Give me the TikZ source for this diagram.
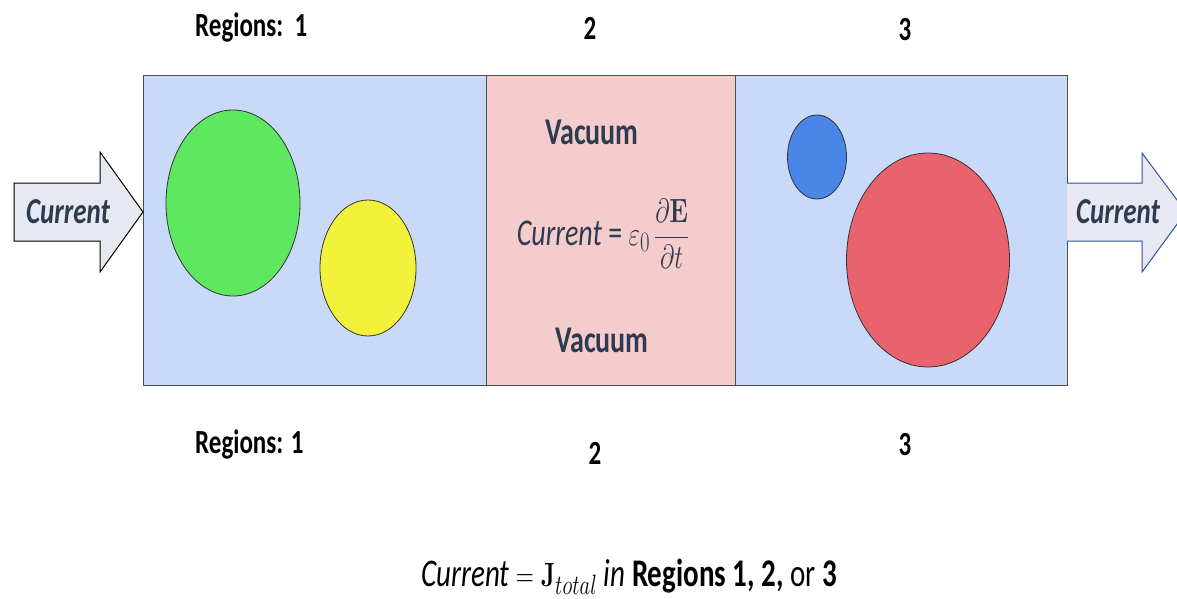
\documentclass[tikz,border=0pt]{standalone}
\usepackage[no-math]{fontspec}
\usepackage{graphicx}
\setmainfont{Carlito}
\definecolor{regblue}{HTML}{C9DAF8}
\definecolor{regpink}{HTML}{F4CCCC}
\definecolor{cgreen}{HTML}{5EE860}
\definecolor{cyellow}{HTML}{F2F23A}
\definecolor{cblue}{HTML}{4A86E8}
\definecolor{cred}{HTML}{E8636E}
\definecolor{darktxt}{HTML}{2E3A50}
\definecolor{arrfill}{HTML}{E6E9F1}
\definecolor{arrblue}{HTML}{2F5597}
\newcommand\vs[1]{\scalebox{1}[1.35]{#1}}
\tikzset{
  region/.style={draw=black!70, line width=0.8pt},
  blob/.style={draw=black!80, line width=0.8pt},
  lbl/.style={inner sep=0pt, font=\fontsize{25}{28}\selectfont\bfseries},
  vac/.style={inner sep=0pt, text=darktxt, font=\fontsize{28}{30}\selectfont\bfseries},
  arrtxt/.style={inner sep=0pt, text=darktxt, font=\fontsize{27}{30}\selectfont\bfseries\itshape},
}
\begin{document}
\begin{tikzpicture}[x=1pt,y=-1pt]
\useasboundingbox (0,0) rectangle (1177,599);
\clip (0,0) rectangle (1177,599);
% regions
\draw[region, fill=regblue] (143,75) rectangle (486,385);
\draw[region, fill=regpink] (486,75) rectangle (735,385);
\draw[region, fill=regblue] (735,75) rectangle (1067,385);
% circles
\draw[blob, fill=cgreen] (233,203) ellipse [x radius=67, y radius=93];
\draw[blob, fill=cyellow] (368,268) ellipse [x radius=48, y radius=68];
\draw[blob, fill=cblue] (817,157) ellipse [x radius=29.5, y radius=42];
\draw[blob, fill=cred] (928,260) ellipse [x radius=81.5, y radius=107];
% left arrow
\draw[line width=1pt, fill=arrfill, line join=miter]
  (14,183) -- (100,183) -- (100,152) -- (143,212) -- (100,272) -- (100,241) -- (14,241) -- cycle;
\node[arrtxt] (curL) at (68,212) {\vs{Current}};
% right arrow
\draw[line width=1pt, draw=arrblue, fill=arrfill, line join=miter]
  (1067,183) -- (1142,183) -- (1142,153) -- (1186,212) -- (1142,272) -- (1142,241) -- (1067,241);
\node[arrtxt] (curR) at (1118,212) {\vs{Current}};
% region labels
\node[lbl, anchor=west] (r1t) at (195,28) {\vs{Regions:~~1}};
\node[lbl] (r2t) at (590,28) {\vs{2}};
\node[lbl] (r3t) at (905,30) {\vs{3}};
\node[lbl, anchor=west] (r1b) at (195,445) {\vs{Regions: 1}};
\node[lbl] (r2b) at (595,453) {\vs{2}};
\node[lbl] (r3b) at (905,445) {\vs{3}};
% vacuum
\node[vac] (v1) at (592,132) {\vs{Vacuum}};
\node[vac] (v2) at (602,340) {\vs{Vacuum}};
\node[inner sep=0pt, text=darktxt, font=\fontsize{28}{30}\selectfont] (eq) at (603,234)
  {\vs{\textit{Current} = $\varepsilon_0\,\displaystyle\frac{\partial\mathbf{E}}{\partial t}$}};
% bottom formula
\node[inner sep=0pt, text=black, font=\fontsize{29}{32}\selectfont] (bot) at (629,577)
  {\vs{\textit{Current} $=\mathbf{J}_{total}$ \textit{in} \textbf{Regions 1, 2,} or \textbf{3}}};
\end{tikzpicture}
\end{document}
